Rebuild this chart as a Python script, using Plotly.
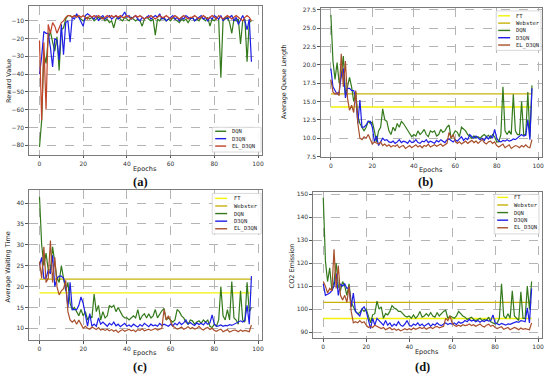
import plotly.graph_objects as go

epochs = list(range(98))

# ---------------- (a) Reward Value ----------------
reward_dqn = [
    -81, -66, -28, -34, -20, -16, -22, -27, -19, -38,
    -15, -14, -9, -7, -7, -8, -7, -7, -8, -9,
    -10, -9, -8, -9, -8, -10, -9, -8, -9, -8,
    -10, -9, -11, -10, -14, -9, -8, -9, -10, -8,
    -9, -10, -8, -9, -10, -9, -10, -13, -9, -8,
    -9, -10, -9, -18, -9, -10, -8, -9, -10, -9,
    -10, -8, -9, -10, -11, -9, -10, -9, -11, -9,
    -8, -10, -9, -10, -8, -9, -10, -8, -13, -9,
    -10, -8, -9, -42, -10, -9, -8, -11, -17, -9,
    -10, -9, -23, -10, -9, -33, -11, -10]
reward_d3qn = [
    -40, -30, -16, -17, -17, -25, -36, -20, -21, -32,
    -12, -29, -11, -10, -22, -8, -9, -6, -8, -11,
    -13, -7, -6, -7, -8, -9, -7, -10, -8, -7,
    -9, -8, -7, -9, -8, -7, -9, -8, -7, -5,
    -8, -7, -9, -8, -7, -9, -10, -8, -9, -8,
    -7, -9, -8, -7, -8, -6, -9, -8, -10, -9,
    -8, -7, -9, -8, -10, -8, -9, -7, -8, -9,
    -8, -10, -9, -8, -7, -9, -8, -10, -8, -9,
    -7, -8, -9, -7, -10, -8, -9, -8, -7, -10,
    -8, -12, -9, -7, -10, -15, -9, -33]
reward_el = [
    -21, -66, -22, -60, -12, -17, -11, -13, -17, -14,
    -11, -10, -8, -7, -7, -8, -7, -8, -7, -8,
    -7, -8, -9, -7, -8, -7, -8, -7, -8, -9,
    -8, -7, -8, -7, -8, -7, -8, -7, -8, -8,
    -7, -8, -9, -8, -7, -8, -7, -8, -9, -8,
    -8, -7, -8, -9, -8, -7, -8, -8, -7, -8,
    -9, -8, -7, -8, -9, -8, -7, -8, -9, -8,
    -8, -7, -8, -9, -8, -7, -8, -9, -8, -7,
    -8, -9, -7, -8, -9, -8, -7, -8, -9, -8,
    -7, -8, -9, -10, -8, -7, -8, -10]

# ---------------- (b) Average Queue Length ----------------
queue_ft = 14.25
queue_webster = 16.05
queue_dqn = [
    26.8, 20.5, 18.0, 20.3, 17.5, 18.5, 21.2, 16.0, 17.0, 18.3,
    17.0, 15.0, 16.3, 13.0, 12.0, 11.5, 11.0, 11.5, 12.3, 12.0,
    12.2, 11.0, 9.5, 11.0, 11.5, 14.0, 12.5, 12.3, 11.0, 10.5,
    11.5, 11.0, 12.0, 11.5, 12.3, 12.0, 11.5, 11.0, 10.5, 10.2,
    10.5, 10.3, 11.0, 10.5, 10.8, 11.2, 10.5, 10.2, 11.0, 10.8,
    11.0, 10.3, 10.5, 11.2, 10.8, 11.0, 11.5, 11.8, 10.0, 10.5,
    11.0, 10.8, 10.2, 11.5, 11.3, 11.0, 10.5, 10.2, 10.0, 10.3,
    10.0, 10.2, 10.0, 10.3, 10.5, 10.2, 10.4, 10.0, 10.5, 10.2,
    9.5, 9.5, 10.5, 17.0, 11.0, 10.5, 11.0, 10.5, 16.0, 11.0,
    10.5, 10.5, 15.0, 10.5, 10.5, 16.3, 10.2, 17.2]
queue_d3qn = [
    19.5, 17.0, 16.5, 16.0, 16.3, 18.5, 19.5, 15.5, 16.8, 16.8,
    16.5, 16.5, 15.5, 12.0, 15.2, 11.5, 11.5, 11.8, 12.3, 12.3,
    11.5, 9.5, 10.3, 9.0, 9.5, 10.0, 9.7, 9.8, 9.5, 9.4,
    9.6, 9.3, 9.5, 9.8, 9.4, 9.6, 9.5, 9.3, 9.7, 9.4,
    9.5, 9.8, 9.4, 9.3, 9.6, 9.5, 9.8, 9.4, 9.6, 9.5,
    9.3, 9.7, 9.5, 9.8, 9.6, 9.4, 9.8, 9.9, 9.7, 9.5,
    9.8, 9.6, 9.9, 10.2, 9.7, 10.0, 9.8, 10.5, 10.2, 10.0,
    10.3, 10.1, 9.8, 10.0, 9.7, 10.2, 9.9, 10.3, 10.0, 11.2,
    10.0, 9.6, 9.5, 9.7, 9.6, 9.8, 9.6, 9.7, 9.9, 9.8,
    10.0, 10.2, 10.5, 10.3, 10.4, 12.5, 9.8, 16.8]
queue_el = [
    18.0, 16.3, 16.0, 16.2, 15.8, 21.5, 17.0, 20.5, 15.5, 13.8,
    14.5, 13.5, 16.5, 12.0, 10.0, 9.8, 10.2, 10.0, 10.5, 9.8,
    9.2, 9.5, 9.3, 9.2, 9.5, 9.0, 9.2, 8.9, 9.1, 8.8,
    9.0, 8.9, 9.1, 8.7, 8.9, 9.0, 8.6, 8.8, 9.0, 8.7,
    8.9, 9.1, 8.8, 9.0, 8.7, 9.0, 8.9, 9.2, 8.8, 9.0,
    9.1, 8.9, 9.0, 9.2, 8.9, 9.1, 9.3, 10.8, 10.0, 10.5,
    9.6, 9.3, 9.5, 9.2, 9.4, 9.6, 9.3, 9.5, 9.7, 9.4,
    9.6, 9.3, 9.5, 9.8, 9.4, 9.2, 9.5, 9.6, 9.3, 9.5,
    9.0, 8.8, 9.0, 9.2, 8.7, 8.9, 9.1, 8.6, 8.8, 9.0,
    8.9, 8.7, 9.0, 8.8, 9.1, 8.8, 8.7, 9.8]

# ---------------- (c) Average Waiting Time ----------------
wait_ft = 18.5
wait_webster = 21.8
wait_dqn = [
    41.5, 30.0, 25.0, 28.0, 24.0, 24.0, 29.5, 25.0, 22.0, 21.0,
    25.0, 22.0, 19.0, 21.0, 16.0, 14.5, 15.0, 14.0, 13.0, 14.5,
    13.0, 14.0, 12.0, 13.0, 12.5, 18.2, 14.0, 15.5, 12.0, 14.0,
    12.5, 13.0, 15.5, 15.0, 15.5, 14.0, 15.0, 14.0, 13.0, 12.5,
    12.5, 12.0, 12.5, 13.0, 12.5, 14.5, 12.0, 13.0, 13.5, 12.5,
    13.5, 12.5, 13.0, 14.5, 12.5, 13.5, 14.2, 14.8, 12.0, 12.5,
    12.0, 11.5, 12.0, 14.5, 14.0, 13.0, 12.5, 11.5, 11.0, 12.0,
    11.8, 11.0, 11.5, 11.8, 11.2, 12.0, 11.5, 12.0, 10.5, 10.2,
    11.0, 10.5, 12.0, 20.0, 13.0, 12.0, 14.5, 12.0, 21.2, 12.5,
    12.0, 11.0, 19.0, 12.0, 11.5, 21.0, 14.0, 15.0]
wait_d3qn = [
    25.0, 27.0, 22.0, 22.0, 24.0, 23.0, 27.5, 20.0, 22.0, 22.5,
    22.5, 22.0, 20.0, 15.0, 21.0, 14.5, 14.5, 14.5, 15.5, 17.5,
    16.0, 13.0, 10.5, 13.5, 10.5, 11.0, 10.5, 12.5, 11.0, 11.5,
    11.0, 10.5, 11.2, 10.8, 11.5, 10.6, 11.0, 10.4, 10.8, 11.2,
    10.5, 10.8, 10.4, 11.0, 10.6, 10.3, 10.9, 10.5, 11.2, 10.7,
    10.4, 11.0, 10.6, 10.8, 10.5, 11.2, 10.7, 11.0, 10.8, 10.5,
    11.0, 10.6, 11.2, 10.8, 11.5, 10.9, 11.3, 12.0, 11.0, 11.4,
    11.0, 10.7, 11.3, 10.9, 11.2, 10.8, 11.5, 11.0, 11.3, 13.2,
    11.0, 10.5, 10.6, 10.8, 10.5, 10.7, 10.6, 10.9, 10.7, 11.0,
    11.2, 11.4, 11.8, 11.5, 11.9, 15.5, 11.0, 22.5]
wait_el = [
    26.0, 22.0, 29.5, 21.0, 22.0, 31.0, 21.0, 27.0, 20.0, 18.0,
    19.0, 19.5, 21.5, 14.0, 12.0, 11.5, 12.0, 11.0, 12.0, 11.0,
    10.0, 10.5, 10.0, 9.8, 10.3, 10.0, 9.7, 10.2, 9.6, 9.8,
    9.5, 9.8, 9.4, 9.7, 9.3, 9.6, 9.0, 9.4, 9.7, 9.3,
    9.5, 9.8, 9.4, 9.6, 9.2, 9.7, 9.5, 9.9, 9.4, 9.6,
    9.8, 9.5, 9.7, 10.0, 9.6, 9.8, 10.0, 14.5, 12.0, 13.0,
    11.5, 10.5, 10.2, 9.8, 10.0, 10.3, 9.8, 10.0, 10.4, 9.9,
    10.2, 9.8, 10.0, 10.5, 9.9, 9.6, 10.0, 10.2, 9.7, 10.0,
    9.5, 9.3, 9.6, 9.8, 9.2, 9.5, 9.7, 9.1, 9.4, 9.6,
    9.5, 9.2, 9.6, 9.3, 9.5, 9.4, 9.2, 10.8]

# ---------------- (d) CO2 Emission ----------------
co2_ft = 95.9
co2_webster = 102.9
co2_dqn = [
    148.5, 121, 112, 118, 108, 112, 120, 110, 108, 112,
    110, 106, 111, 103, 101, 99, 98, 98.5, 100, 99,
    100, 97, 94, 97.5, 98, 103.5, 100, 101, 96, 98,
    97.5, 99, 101.5, 100.5, 100, 99, 99, 98, 97, 96.5,
    97, 96, 97.5, 96, 97, 99, 96.5, 97, 98, 97,
    98.5, 97, 96.5, 98.5, 97, 98, 99, 99.5, 96, 97,
    96.5, 96, 97, 99, 98, 97, 96.5, 95.5, 96, 96.5,
    95.5, 95, 95.5, 96, 95, 95.5, 95, 96.5, 94.5, 94,
    93.5, 94, 96, 111, 97, 96, 98, 96, 108, 97,
    96, 95, 107.5, 96, 96, 110, 100, 112]
co2_d3qn = [
    111, 106, 106.5, 107, 108, 110, 115.5, 106, 111, 110,
    111, 109, 109.5, 101, 107, 99, 98, 97, 100, 101,
    99, 95, 91.5, 96, 93, 96, 95, 94, 93, 95,
    93, 94, 92.5, 93.5, 92.8, 94.5, 93, 92.5, 93.5, 95,
    93, 92.5, 93.5, 93, 94, 92.8, 93.5, 92.5, 93, 93.8,
    92.5, 93.5, 93, 94, 93.2, 92.8, 93.5, 94, 93.3, 93.8,
    93.5, 94, 93.2, 94.5, 93.8, 94.2, 95, 94.5, 95.5, 94.8,
    95.2, 94.5, 95, 94.3, 95, 94.6, 95.3, 94.8, 95, 97.5,
    94, 93.5, 93.2, 93.8, 93.5, 93, 93.6, 93.4, 93.8, 94,
    94.5, 94.2, 95, 94.8, 94.5, 100.5, 94, 109]
co2_el = [
    112, 110, 107, 109, 108, 126, 109, 119, 106, 104,
    106, 103, 110, 99, 94, 94.5, 94, 95, 94, 94.5,
    93, 92, 92.5, 92, 93, 92.5, 92, 91.5, 92, 91,
    91.5, 92, 91, 91.5, 90.8, 91.2, 90.5, 91, 91.5, 91,
    91.5, 91, 91.8, 91.2, 91.5, 92, 91.5, 92, 91.2, 91.8,
    92, 91.5, 92.2, 92.5, 91.8, 92.3, 92.5, 96, 95, 97,
    94, 93, 92.5, 93, 92.5, 93.2, 92.8, 93, 93.5, 92.8,
    93.2, 92.5, 93, 93.5, 92.6, 92.2, 93, 93.4, 92.5, 93,
    92, 91.5, 92, 92.3, 91.2, 91.6, 92, 91, 91.5, 92,
    91.6, 91, 91.8, 91.2, 91.5, 91.3, 91, 94]

x_ticks = [0, 20, 40, 60, 80, 100]

# ---------------- styling ----------------
W, H = 550, 378
C_FT = "#f2f20a"
C_WEB = "#c8b20a"
C_DQN = "#347a1c"
C_D3QN = "#1e1ee6"
C_EL = "#a8502c"
C_EL_A = "#c0442a"


def px(x):
    return x / W


def py(y):
    return 1 - y / H


fig = go.Figure()

panels = [
    dict(ax="", box=(29, 4, 263, 155), yr=[-85.5, -1.6], dt=10, t0=-80, fmt="d"),
    dict(ax="2", box=(322, 6, 544, 157), yr=[7.45, 27.75], dt=2.5, t0=7.5, fmt=".1f"),
    dict(ax="3", box=(29, 191, 263, 343), yr=[7.1, 43.0], dt=5, t0=10, fmt="d"),
    dict(ax="4", box=(314, 193, 544, 341), yr=[87.2, 150.8], dt=10, t0=90, fmt="d"),
]

series = [
    (None, None, reward_dqn, reward_d3qn, reward_el),
    (queue_ft, queue_webster, queue_dqn, queue_d3qn, queue_el),
    (wait_ft, wait_webster, wait_dqn, wait_d3qn, wait_el),
    (co2_ft, co2_webster, co2_dqn, co2_d3qn, co2_el),
]

for p, (ft, web, dqn, d3qn, el) in zip(panels, series):
    xa = "x" + p["ax"]
    ya = "y" + p["ax"]
    el_col = C_EL_A if p["ax"] == "" else C_EL
    if ft is not None:
        fig.add_trace(go.Scatter(x=epochs, y=[ft] * len(epochs), mode="lines",
                                 line=dict(color=C_FT, width=1.3), xaxis=xa, yaxis=ya, name="FT"))
        fig.add_trace(go.Scatter(x=epochs, y=[web] * len(epochs), mode="lines",
                                 line=dict(color=C_WEB, width=1.3), xaxis=xa, yaxis=ya, name="Webster"))
    fig.add_trace(go.Scatter(x=epochs, y=dqn, mode="lines", line=dict(color=C_DQN, width=1.2),
                             xaxis=xa, yaxis=ya, name="DQN"))
    fig.add_trace(go.Scatter(x=epochs, y=d3qn, mode="lines", line=dict(color=C_D3QN, width=1.2),
                             xaxis=xa, yaxis=ya, name="D3QN"))
    fig.add_trace(go.Scatter(x=epochs, y=el, mode="lines", line=dict(color=el_col, width=1.2),
                             xaxis=xa, yaxis=ya, name="EL_D3QN"))

tick_font = dict(family="DejaVu Sans", size=6, color="#333333")
layout = dict(
    width=W, height=H, margin=dict(l=0, r=0, t=0, b=0),
    paper_bgcolor="white", plot_bgcolor="white", showlegend=False,
)
for p in panels:
    l, t, r, b = p["box"]
    common = dict(showline=True, mirror=True, linecolor="#7a7a7a", linewidth=1,
                  showgrid=True, gridcolor="#b4b4b4", griddash="dash", gridwidth=0.8,
                  zeroline=False, ticks="outside", ticklen=2.5, tickwidth=0.8,
                  tickcolor="#555555", tickfont=tick_font)
    layout["xaxis" + p["ax"]] = dict(
        domain=[px(l), px(r)], range=[-4.85, 101.85], tickvals=x_ticks,
        anchor="y" + p["ax"], **common)
    layout["yaxis" + p["ax"]] = dict(
        domain=[py(b), py(t)], range=p["yr"], tick0=p["t0"], dtick=p["dt"],
        tickformat=p["fmt"], anchor="x" + p["ax"], **common)
fig.update_layout(**layout)

title_font = dict(family="DejaVu Sans", size=6.5, color="#222222")
for text, x, y in [("Reward Value", 9, 80), ("Average Queue Length", 285, 80),
                   ("Average Waiting Time", 8, 268), ("CO2 Emission", 294, 267)]:
    fig.add_annotation(x=px(x), y=py(y), xref="paper", yref="paper", text=text,
                       textangle=-90, showarrow=False, font=title_font,
                       xanchor="center", yanchor="middle")
for x, y in [(146, 169.5), (433, 170.5), (146, 356), (429, 355)]:
    fig.add_annotation(x=px(x), y=py(y), xref="paper", yref="paper", text="Epochs",
                       showarrow=False, font=title_font, xanchor="center", yanchor="middle")
for text, x, y in [("(a)", 141, 182), ("(b)", 427, 182), ("(c)", 141, 370), ("(d)", 424, 370)]:
    fig.add_annotation(x=px(x), y=py(y), xref="paper", yref="paper", text="<b>%s</b>" % text,
                       showarrow=False, font=dict(family="Liberation Serif", size=12.5, color="#111"),
                       xanchor="center", yanchor="middle")


def add_legend(box, entries, y_first, step, sx0, sx1, tx):
    left, top, right, bottom = box
    fig.add_shape(type="rect", xref="paper", yref="paper", x0=px(left), x1=px(right),
                  y0=py(bottom), y1=py(top), line=dict(color="#cfcfcf", width=0.8),
                  fillcolor="rgba(255,255,255,0.9)", layer="above")
    for i, (name, color) in enumerate(entries):
        yy = y_first + i * step
        fig.add_shape(type="line", xref="paper", yref="paper", x0=px(sx0), x1=px(sx1),
                      y0=py(yy), y1=py(yy), line=dict(color=color, width=1.4), layer="above")
        fig.add_annotation(x=px(tx), y=py(yy), xref="paper", yref="paper", text=name,
                           showarrow=False, xanchor="left", yanchor="middle",
                           font=dict(family="DejaVu Sans Mono", size=5.5, color="#222"))


legend_a = [("DQN", C_DQN), ("D3QN", C_D3QN), ("EL_D3QN", C_EL_A)]
legend_full = [("FT", C_FT), ("Webster", C_WEB), ("DQN", C_DQN), ("D3QN", C_D3QN), ("EL_D3QN", C_EL)]
add_legend((213, 127, 262, 152), legend_a, 131, 7.5, 216, 227, 231)
add_legend((498, 9, 543, 49), legend_full, 14, 7.4, 500, 512, 516)
add_legend((213, 194, 262, 235), legend_full, 199, 7.7, 216, 228, 233)
add_legend((496, 195, 541, 235), legend_full, 198, 7.7, 499, 510, 514)

fig.write_html("out.html", config={"displayModeBar": False},
               post_script="document.body.style.margin='0';")
